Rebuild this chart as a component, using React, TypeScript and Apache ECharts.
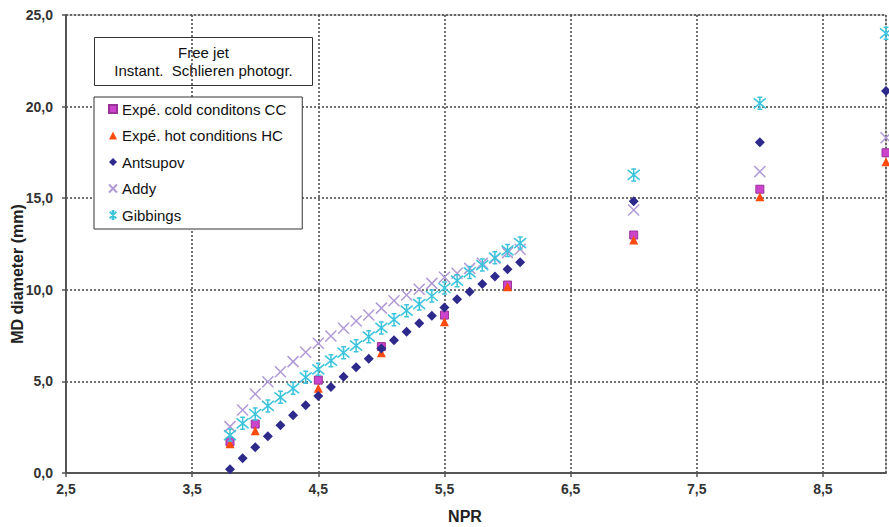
import React, { useEffect, useRef } from "react";
import * as echarts from "echarts";

const nprFine = [3.8, 3.9, 4.0, 4.1, 4.2, 4.3, 4.4, 4.5, 4.6, 4.7, 4.8, 4.9, 5.0, 5.1, 5.2, 5.3, 5.4, 5.5, 5.6, 5.7, 5.8, 5.9, 6.0, 6.1, 7.0, 8.0, 9.0];
const antsupov = [0.2, 0.8, 1.4, 2.0, 2.6, 3.15, 3.7, 4.2, 4.7, 5.25, 5.77, 6.24, 6.8, 7.24, 7.71, 8.17, 8.59, 9.04, 9.48, 9.9, 10.32, 10.72, 11.12, 11.5, 14.83, 18.05, 20.85];
const addy = [2.53, 3.44, 4.31, 4.98, 5.53, 6.08, 6.59, 7.08, 7.48, 7.9, 8.3, 8.62, 9.0, 9.4, 9.72, 10.03, 10.35, 10.68, 10.9, 11.17, 11.45, 11.72, 12.03, 12.21, 14.36, 16.45, 18.3];
const gibbings = [2.07, 2.71, 3.22, 3.66, 4.13, 4.62, 5.22, 5.66, 6.13, 6.57, 6.95, 7.44, 7.92, 8.37, 8.86, 9.22, 9.66, 10.1, 10.5, 10.95, 11.35, 11.75, 12.15, 12.55, 16.27, 20.18, 24.0];

const nprExp = [3.8, 4.0, 4.5, 5.0, 5.5, 6.0, 7.0, 8.0, 9.0];
const coldCC = [1.7, 2.67, 5.07, 6.9, 8.62, 10.26, 12.99, 15.49, 17.48];
const hotHC = [1.6, 2.31, 4.62, 6.57, 8.26, 10.17, 12.72, 15.08, 16.99];

const seriesNames = [
  "Expé. cold conditons CC",
  "Expé. hot conditions HC",
  "Antsupov",
  "Addy",
  "Gibbings",
];
const titleLines = ["Free jet", "Instant.  Schlieren photogr."];
const xLabel = "NPR";
const yLabel = "MD diameter (mm)";

const pair = (xs: number[], ys: number[]) => xs.map((x, i) => [x, ys[i]]);
const fmt = (v: number) => v.toFixed(1).replace(".", ",");

const FONT = "'Liberation Sans', Arial, sans-serif";

export default function App() {
  const ref = useRef<HTMLDivElement>(null);
  useEffect(() => {
    document.body.style.margin = "0";
    const chart = echarts.init(ref.current!, null, { renderer: "svg" });
    chart.setOption({
      animation: false,
      backgroundColor: "#fff",
      textStyle: { fontFamily: FONT },
      grid: {
        left: 66,
        right: 3,
        top: 15,
        bottom: 54,
        show: true,
        borderColor: "#a0a0a0",
        borderWidth: 1,
        containLabel: false,
        outerBoundsMode: "none",
      },
      xAxis: {
        type: "value",
        min: 2.5,
        max: 9,
        interval: 1,
        name: xLabel,
        nameLocation: "middle",
        nameGap: 35,
        nameMoveOverlap: false,
        nameTextStyle: { fontFamily: FONT, fontWeight: "bold", fontSize: 16, color: "#222", padding: [0, 22, 0, 0] },
        axisLine: { show: true, lineStyle: { color: "#555", width: 2 } },
        axisTick: { show: true, length: 4, lineStyle: { color: "#555", width: 1.5 } },
        axisLabel: {
          margin: 9,
          fontFamily: FONT,
          fontWeight: "bold",
          fontSize: 14,
          color: "#333",
          showMaxLabel: false,
          formatter: (v: number) => (Math.abs(((v - 2.5) % 1 + 1) % 1) < 1e-6 && v < 8.9 ? fmt(v) : ""),
        },
        splitLine: { show: true, lineStyle: { color: "#444", width: 1.5, type: [2, 2] } },
      },
      yAxis: {
        type: "value",
        min: 0,
        max: 25,
        interval: 5,
        name: yLabel,
        nameLocation: "middle",
        nameGap: 41,
        nameMoveOverlap: false,
        nameTextStyle: { fontFamily: FONT, fontWeight: "bold", fontSize: 16, color: "#222", padding: [0, 60, 0, 0] },
        axisLine: { show: true, lineStyle: { color: "#555", width: 2 } },
        axisTick: { show: true, length: 4, lineStyle: { color: "#555", width: 1.5 } },
        axisLabel: {
          margin: 13,
          fontFamily: FONT,
          fontWeight: "bold",
          fontSize: 14,
          color: "#333",
          formatter: (v: number) => fmt(v),
        },
        splitLine: { show: true, lineStyle: { color: "#444", width: 1.5, type: [2, 2] } },
      },
      legend: {
        orient: "vertical",
        left: 94,
        top: 97,
        padding: [4.5, 16, 6.5, 14],
        itemGap: 11.5,
        itemWidth: 8,
        itemHeight: 8,
        backgroundColor: "#fff",
        borderColor: "#333",
        borderWidth: 1,
        textStyle: { fontFamily: FONT, fontSize: 15, color: "#111" },
        data: seriesNames,
        z: 10,
      },
      graphic: [
        {
          type: "group",
          left: 94,
          top: 37,
          z: 10,
          children: [
            {
              type: "rect",
              shape: { x: 0, y: 0, width: 218, height: 48 },
              style: { fill: "#fff", stroke: "#333", lineWidth: 1 },
            },
            {
              type: "text",
              x: 109,
              y: 15,
              style: { text: titleLines[0], font: `15px ${FONT}`, fill: "#111", textAlign: "center", textVerticalAlign: "middle" },
            },
            {
              type: "text",
              x: 109,
              y: 33,
              style: { text: titleLines[1], font: `15px ${FONT}`, fill: "#111", textAlign: "center", textVerticalAlign: "middle" },
            },
          ],
        },
      ],
      series: [
        {
          name: seriesNames[0],
          type: "scatter",
          symbol: "rect",
          symbolSize: 8,
          itemStyle: { color: "#cc44cc", borderColor: "#993399", borderWidth: 1, opacity: 1 },
          data: pair(nprExp, coldCC),
          z: 2,
        },
        {
          name: seriesNames[1],
          type: "scatter",
          symbol: "triangle",
          symbolSize: 9,
          itemStyle: { color: "#ff4a10", opacity: 1 },
          data: pair(nprExp, hotHC),
          z: 3,
        },
        {
          name: seriesNames[2],
          type: "scatter",
          symbol: "diamond",
          symbolSize: 10,
          itemStyle: { color: "#2e2a8c", opacity: 1 },
          data: pair(nprFine, antsupov),
          z: 4,
        },
        {
          name: seriesNames[3],
          type: "scatter",
          symbol: "path://M0,0L10,10M10,0L0,10",
          symbolSize: 11,
          itemStyle: { color: "rgba(0,0,0,0)", borderColor: "#b09ad6", borderWidth: 1.5, opacity: 1 },
          data: pair(nprFine, addy),
          z: 5,
        },
        {
          name: seriesNames[4],
          type: "scatter",
          symbol: "path://M0,0L10,10M10,0L0,10M5,-1L5,11M3,-1L7,-1M3,11L7,11",
          symbolSize: 12,
          itemStyle: { color: "rgba(0,0,0,0)", borderColor: "#3cc4dc", borderWidth: 1.5, opacity: 1 },
          data: pair(nprFine, gibbings),
          z: 6,
        },
      ],
    });
    return () => chart.dispose();
  }, []);
  return <div ref={ref} style={{ width: 889, height: 527 }} />;
}
